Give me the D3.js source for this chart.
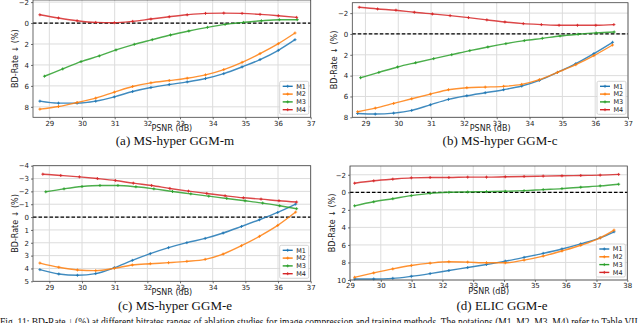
<!DOCTYPE html>
<html>
<head>
<meta charset="utf-8">
<script src="https://cdn.jsdelivr.net/npm/d3@7"></script>
<style>
  body { margin: 0; background: #fff; }
  svg { display: block; }
  .tick text { font-family: "DejaVu Sans", sans-serif; }
</style>
</head>
<body>
<div id="chart"></div>
<script>
// Series names and colours (matplotlib defaults)
var seriesNames = ["M1", "M2", "M3", "M4"];
var seriesColors = ["#1f77b4", "#ff7f0e", "#2ca02c", "#d62728"];

// (a) MS-hyper GGM-m
var psnrA12 = [28.71, 29.28, 29.85, 30.42, 30.99, 31.55, 32.11, 32.67, 33.22, 33.78, 34.34, 34.9, 35.45, 36.01, 36.52];
var psnrA3 = [28.85, 29.41, 29.97, 30.53, 31.04, 31.6, 32.15, 32.71, 33.27, 33.84, 34.38, 34.94, 35.49, 36.04, 36.59];
var psnrA4 = [28.71, 29.28, 29.85, 30.42, 30.99, 31.55, 32.11, 32.67, 33.22, 33.78, 34.34, 34.9, 35.45, 36.01, 36.57];
var rateA1 = [7.46, 7.65, 7.65, 7.46, 7.05, 6.54, 6.16, 5.87, 5.62, 5.3, 4.83, 4.19, 3.49, 2.6, 1.59];
var rateA2 = [8.22, 7.97, 7.59, 7.17, 6.6, 6.06, 5.71, 5.49, 5.27, 4.95, 4.44, 3.75, 2.92, 1.97, 0.95];
var rateA3 = [5.08, 4.38, 3.68, 3.14, 2.57, 2.03, 1.59, 1.14, 0.76, 0.41, 0.13, -0.06, -0.22, -0.32, -0.32];
var rateA4 = [-0.79, -0.48, -0.22, -0.06, -0.03, -0.16, -0.38, -0.6, -0.79, -0.92, -0.95, -0.92, -0.83, -0.7, -0.54];

// (b) MS-hyper GGM-c
var psnrB12 = [28.76, 29.3, 29.86, 30.41, 30.98, 31.53, 32.09, 32.65, 33.21, 33.76, 34.3, 34.85, 35.41, 35.96, 36.53];
var psnrB3 = [28.85, 29.41, 29.98, 30.53, 31.08, 31.63, 32.18, 32.73, 33.28, 33.84, 34.39, 34.93, 35.48, 36.03, 36.58];
var psnrB4 = [28.81, 29.37, 29.93, 30.49, 31.04, 31.58, 32.14, 32.7, 33.25, 33.81, 34.36, 34.9, 35.46, 36.02, 36.57];
var rateB1 = [7.63, 7.69, 7.6, 7.34, 6.8, 6.28, 5.93, 5.64, 5.35, 5.0, 4.45, 3.69, 2.85, 1.89, 0.8];
var rateB2 = [7.47, 7.12, 6.67, 6.22, 5.77, 5.35, 5.16, 5.1, 5.03, 4.84, 4.39, 3.69, 2.95, 2.08, 1.06];
var rateB3 = [4.2, 3.69, 3.17, 2.76, 2.37, 1.99, 1.6, 1.25, 0.93, 0.64, 0.42, 0.19, 0.03, -0.1, -0.19];
var rateB4 = [-2.56, -2.4, -2.28, -2.08, -1.92, -1.76, -1.57, -1.35, -1.15, -0.99, -0.9, -0.83, -0.83, -0.83, -0.9];

// (c) MS-hyper GGM-e
var psnrC12 = [28.71, 29.29, 29.86, 30.42, 30.99, 31.54, 32.09, 32.65, 33.21, 33.77, 34.32, 34.88, 35.43, 35.99, 36.54];
var psnrC3 = [28.89, 29.45, 30.0, 30.55, 31.1, 31.65, 32.2, 32.77, 33.33, 33.88, 34.43, 34.99, 35.53, 36.05, 36.57];
var psnrC4 = [28.8, 29.35, 29.92, 30.47, 31.02, 31.57, 32.13, 32.69, 33.26, 33.82, 34.38, 34.94, 35.48, 36.03, 36.57];
var rateC1 = [4.09, 4.43, 4.53, 4.4, 3.94, 3.37, 2.85, 2.38, 1.99, 1.66, 1.24, 0.73, 0.21, -0.36, -1.01];
var rateC2 = [3.58, 3.91, 4.12, 4.17, 3.99, 3.73, 3.63, 3.55, 3.45, 3.29, 2.88, 2.23, 1.5, 0.65, -0.39];
var rateC3 = [-1.97, -2.2, -2.38, -2.46, -2.46, -2.36, -2.2, -1.99, -1.81, -1.63, -1.45, -1.27, -1.09, -0.88, -0.65];
var rateC4 = [-3.34, -3.24, -3.13, -3.0, -2.85, -2.64, -2.46, -2.23, -2.02, -1.84, -1.66, -1.5, -1.4, -1.27, -1.17];

// (d) ELIC GGM-e
var psnrD12 = [29.15, 29.77, 30.39, 30.99, 31.6, 32.21, 32.82, 33.43, 34.04, 34.65, 35.27, 35.88, 36.49, 37.12, 37.57];
var psnrD34 = [29.15, 29.77, 30.39, 30.99, 31.6, 32.21, 32.82, 33.43, 34.04, 34.65, 35.27, 35.88, 36.49, 37.12, 37.72];
var rateD1 = [9.88, 9.88, 9.81, 9.58, 9.27, 8.92, 8.58, 8.23, 7.85, 7.42, 6.96, 6.46, 5.88, 5.19, 4.5];
var rateD2 = [9.69, 9.19, 8.73, 8.35, 8.08, 7.92, 7.96, 8.04, 8.04, 7.73, 7.27, 6.69, 6.04, 5.19, 4.31];
var rateD3 = [1.54, 1.08, 0.73, 0.38, 0.12, 0.0, -0.04, -0.08, -0.12, -0.19, -0.31, -0.42, -0.58, -0.73, -0.92];
var rateD4 = [-1.04, -1.31, -1.5, -1.65, -1.69, -1.69, -1.73, -1.73, -1.77, -1.81, -1.85, -1.88, -1.92, -1.96, -2.04];

// Tick values
var xTicksABC = [29, 30, 31, 32, 33, 34, 35, 36, 37];
var xTicksD = [29, 30, 31, 32, 33, 34, 35, 36, 37, 38];
var yTicksAB = [-2, 0, 2, 4, 6, 8];
var yTicksC = [-4, -3, -2, -1, 0, 1, 2, 3, 4, 5];
var yTicksD = [-2, 0, 2, 4, 6, 8, 10];

var captions = ["(a) MS-hyper GGM-m", "(b) MS-hyper GGM-c", "(c) MS-hyper GGM-e", "(d) ELIC GGM-e"];
var figCaption = "Fig. 11:  BD-Rate \u2193 (%) at different bitrates ranges of ablation studies for image compression and training methods. The notations (M1, M2, M3, M4) refer to Table VII.";

// Panel layout (pixel boxes) and axis domains
var panels = [
  { box: [33, 0, 310.7, 117.3], xDom: [28.5, 37], yDom: [-2.2, 9], xTicks: xTicksABC, yTicks: yTicksAB,
    xs: [psnrA12, psnrA12, psnrA3, psnrA4], ys: [rateA1, rateA2, rateA3, rateA4], cap: [175, 145] },
  { box: [352.3, 2.7, 628, 117.3], xDom: [28.6, 37], yDom: [-3, 8], xTicks: xTicksABC, yTicks: yTicksAB,
    xs: [psnrB12, psnrB12, psnrB3, psnrB4], ys: [rateB1, rateB2, rateB3, rateB4], cap: [500, 145] },
  { box: [33, 165.7, 310.7, 281.3], xDom: [28.5, 37], yDom: [-4, 5], xTicks: xTicksABC, yTicks: yTicksC,
    xs: [psnrC12, psnrC12, psnrC3, psnrC4], ys: [rateC1, rateC2, rateC3, rateC4], cap: [175, 310] },
  { box: [350, 166, 627.3, 280], xDom: [29, 38], yDom: [-3, 10], xTicks: xTicksD, yTicks: yTicksD,
    xs: [psnrD12, psnrD12, psnrD34, psnrD34], ys: [rateD1, rateD2, rateD3, rateD4], cap: [502, 310] }
];

var svg = d3.select("#chart")
  .append("svg")
  .attr("width", 640)
  .attr("height", 323);

panels.forEach(function(p, pi) {
  var x0 = p.box[0], y0 = p.box[1], x1 = p.box[2], y1 = p.box[3];
  var xScale = d3.scaleLinear().domain(p.xDom).range([x0, x1]);
  var yScale = d3.scaleLinear().domain(p.yDom).range([y0, y1]);
  var g = svg.append("g");

  // grid
  g.selectAll(".vgrid").data(p.xTicks).enter().append("line")
    .attr("x1", d => xScale(d)).attr("x2", d => xScale(d))
    .attr("y1", y0).attr("y2", y1)
    .attr("stroke", "#dcdcdc").attr("stroke-width", 1);
  g.selectAll(".hgrid").data(p.yTicks).enter().append("line")
    .attr("x1", x0).attr("x2", x1)
    .attr("y1", d => yScale(d)).attr("y2", d => yScale(d))
    .attr("stroke", "#dcdcdc").attr("stroke-width", 1);

  // zero line
  g.append("line")
    .attr("x1", x0).attr("x2", x1)
    .attr("y1", yScale(0)).attr("y2", yScale(0))
    .attr("stroke", "#000").attr("stroke-width", 1.2)
    .attr("stroke-dasharray", "3.5,2");

  // axes
  var bottomAxis = d3.axisBottom(xScale).tickValues(p.xTicks).tickSize(2).tickPadding(1.5).tickFormat(d3.format("d"));
  var leftAxis = d3.axisLeft(yScale).tickValues(p.yTicks).tickSize(2).tickPadding(2).tickFormat(d3.format("d"));
  var gx = g.append("g").attr("transform", `translate(0, ${y1})`).call(bottomAxis);
  var gy = g.append("g").attr("transform", `translate(${x0}, 0)`).call(leftAxis);
  [gx, gy].forEach(function(a) {
    a.select(".domain").remove();
    a.selectAll(".tick line").attr("stroke", "#333").attr("stroke-width", 0.7);
    a.selectAll(".tick text").attr("font-size", 7).attr("fill", "#222");
  });

  // series
  var line = d3.line().curve(d3.curveMonotoneX)
    .x(d => xScale(d[0])).y(d => yScale(d[1]));
  seriesNames.forEach(function(name, si) {
    var pts = p.xs[si].map((v, k) => [v, p.ys[si][k]]);
    g.append("path").datum(pts)
      .attr("d", line)
      .attr("fill", "none")
      .attr("stroke", seriesColors[si])
      .attr("stroke-width", 1.4)
      .attr("stroke-opacity", 0.85);
    g.selectAll(".m" + si).data(pts).enter().append("path")
      .attr("d", d => `M${xScale(d[0]) - 1.5},${yScale(d[1])}h3M${xScale(d[0])},${yScale(d[1]) - 1.5}v3`)
      .attr("stroke", seriesColors[si])
      .attr("stroke-width", 0.9);
  });

  // frame
  g.append("rect")
    .attr("x", x0).attr("y", y0)
    .attr("width", x1 - x0).attr("height", y1 - y0)
    .attr("fill", "none").attr("stroke", "#444").attr("stroke-width", 0.8);

  // axis labels
  g.append("text")
    .text("PSNR (dB)")
    .attr("x", (x0 + x1) / 2)
    .attr("y", y1 + 13.5)
    .attr("text-anchor", "middle")
    .attr("font-family", "DejaVu Sans, sans-serif")
    .attr("font-size", 8)
    .attr("fill", "#222");
  g.append("text")
    .text("BD-Rate \u2193 (%)")
    .attr("transform", `translate(${x0 - 15}, ${(y0 + y1) / 2}) rotate(-90)`)
    .attr("text-anchor", "middle")
    .attr("font-family", "DejaVu Sans, sans-serif")
    .attr("font-size", 8)
    .attr("fill", "#222");

  // legend
  var lw = 29, lh = 33;
  var lx = x1 - 2 - lw, ly = y1 - 3 - lh;
  var lg = g.append("g");
  lg.append("rect")
    .attr("x", lx).attr("y", ly).attr("width", lw).attr("height", lh)
    .attr("rx", 1.5)
    .attr("fill", "#fff").attr("fill-opacity", 0.85)
    .attr("stroke", "#ccc").attr("stroke-width", 0.8);
  seriesNames.forEach(function(name, si) {
    var yy = ly + 5 + si * 7.8;
    lg.append("line")
      .attr("x1", lx + 3).attr("x2", lx + 13)
      .attr("y1", yy).attr("y2", yy)
      .attr("stroke", seriesColors[si]).attr("stroke-width", 1.4);
    lg.append("path")
      .attr("d", `M${lx + 6.5},${yy}h3M${lx + 8},${yy - 1.5}v3`)
      .attr("stroke", seriesColors[si]).attr("stroke-width", 0.9);
    lg.append("text")
      .text(name)
      .attr("x", lx + 16.5).attr("y", yy + 2.3)
      .attr("font-family", "DejaVu Sans, sans-serif")
      .attr("font-size", 6.5)
      .attr("fill", "#222");
  });

  // caption
  svg.append("text")
    .text(captions[pi])
    .attr("x", p.cap[0]).attr("y", p.cap[1])
    .attr("text-anchor", "middle")
    .attr("font-family", "Liberation Serif, serif")
    .attr("font-size", 13)
    .attr("fill", "#111");
});

// figure caption, cut at the bottom edge
svg.append("text")
  .text(figCaption)
  .attr("x", 0).attr("y", 326)
  .attr("textLength", 640)
  .attr("lengthAdjust", "spacingAndGlyphs")
  .attr("font-family", "Liberation Serif, serif")
  .attr("font-size", 12)
  .attr("fill", "#111");
</script>
</body>
</html>
